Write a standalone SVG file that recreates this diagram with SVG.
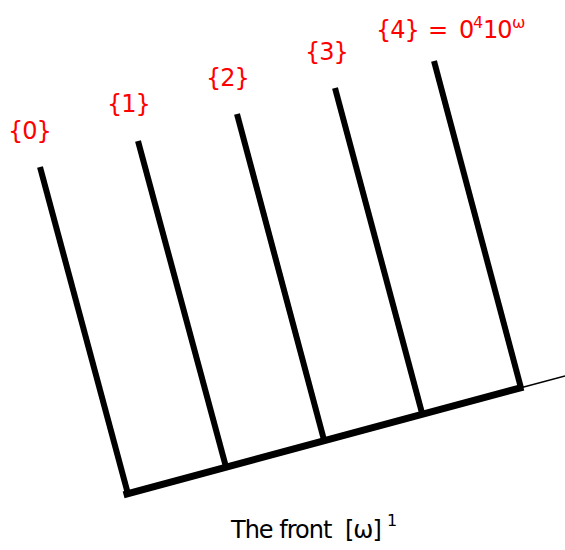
<svg xmlns="http://www.w3.org/2000/svg" width="565" height="550" viewBox="0 0 565 550">
<style>
.tine{stroke:#000;stroke-width:6;stroke-linecap:butt;fill:none}
.base{stroke:#000;stroke-width:7;stroke-linecap:square;fill:none}
.thin{stroke:#000;stroke-width:1.5;fill:none}
.lbl{font-family:"DejaVu Sans",sans-serif;font-size:24px;letter-spacing:-1px;fill:#ff0000}
.sup{font-size:16px;letter-spacing:0}
.cap{font-family:"DejaVu Sans",sans-serif;font-size:24px;letter-spacing:-1px;fill:#000}
</style>
<rect width="565" height="550" fill="#fff"/>
<g id="connectors">
<line class="base" x1="127" y1="494" x2="520" y2="388"/>
<line class="thin" x1="520" y1="388" x2="565" y2="376"/>
</g>
<g id="node0">
<line class="tine" x1="40" y1="167" x2="128" y2="494"/>
<text class="lbl" x="8" y="139">{0}</text>
</g>
<g id="node1">
<line class="tine" x1="138" y1="141" x2="226" y2="467"/>
<text class="lbl" x="107" y="112">{1}</text>
</g>
<g id="node2">
<line class="tine" x1="237" y1="114" x2="324" y2="440"/>
<text class="lbl" x="206" y="86">{2}</text>
</g>
<g id="node3">
<line class="tine" x1="335" y1="88" x2="422" y2="413"/>
<text class="lbl" x="305" y="60">{3}</text>
</g>
<g id="node4">
<line class="tine" x1="434" y1="61" x2="521" y2="388"/>
<text class="lbl" y="38"><tspan x="376">{4}</tspan><tspan x="428">=</tspan><tspan x="459">0</tspan><tspan class="sup" x="473" y="28">4</tspan><tspan x="483" y="38">10</tspan><tspan class="sup" x="512" y="28">ω</tspan></text>
</g>
<g id="caption">
<text class="cap" y="538"><tspan x="231">The front</tspan><tspan x="345">[ω]</tspan><tspan class="sup" x="387" y="526">1</tspan></text>
</g>
</svg>
